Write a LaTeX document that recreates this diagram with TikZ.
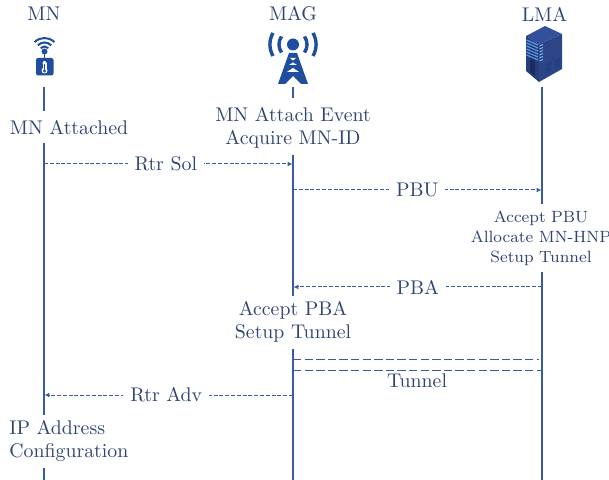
\documentclass[tikz,border=0pt]{standalone}
\usetikzlibrary{arrows.meta}
\definecolor{txt}{HTML}{2F4472}
\definecolor{ln}{HTML}{3A5C9E}
\definecolor{icon}{HTML}{1F4E9E}
\definecolor{srvL}{HTML}{263E80}
\definecolor{srvR}{HTML}{2C4587}
\definecolor{srvT}{HTML}{34509A}
\definecolor{srvB}{HTML}{5A9BE8}
\tikzset{
  lab/.style={text=txt,font=\fontsize{9.9}{11.6}\selectfont,align=center,inner sep=0pt},
  small/.style={text=txt,font=\fontsize{8.15}{10}\selectfont,align=center,inner sep=0pt},
  life/.style={draw=ln,line width=1pt},
  msg/.style={draw=ln,line width=.5pt,dash pattern=on 2pt off .9pt,-{Latex[length=2.4pt,width=2.4pt]}},
  tun/.style={draw=ln,line width=.45pt,dash pattern=on 4.2pt off 1.6pt},
  onmsg/.style={lab,fill=white,inner xsep=3.5pt,inner ysep=2pt},
}
\begin{document}
\begin{tikzpicture}[x=.5pt,y=-.5pt]
\useasboundingbox (0,0) rectangle (609,480);
% headers
\node[lab] (mn) at (44,14) {MN};
\node[lab] (mag) at (293,14) {MAG};
\node[lab] (lma) at (544.5,14) {LMA};
% MN icon
\fill[icon,rounded corners=1pt] (36,58) rectangle (53.5,75.5);
\fill[white] (44.5,63) circle (2) (44.5,70.5) circle (3);
\fill[white] (42.5,63) rectangle (46.5,70);
\fill[icon] (44,64) rectangle (45,71);
\fill[icon] (44.5,71) circle (1.6);
\fill[icon] (44.5,51.5) circle (3);
\draw[icon,line width=.7pt] (44.5,52) -- (44.5,59);
\draw[icon,line width=1pt] (40.6,48.1) arc[start angle=225,end angle=315,radius=5.5];
\draw[icon,line width=1pt] (37.8,45.3) arc[start angle=225,end angle=315,radius=9.5];
\draw[icon,line width=1pt] (34.6,42.1) arc[start angle=225,end angle=315,radius=14];
% MAG icon
\fill[icon] (293,44.5) circle (6);
\draw[icon,line width=1.7pt] (281.5,36.5) arc[start angle=215,end angle=145,radius=14];
\draw[icon,line width=1.7pt] (304.5,36.5) arc[start angle=-35,end angle=35,radius=14];
\draw[icon,line width=1.7pt] (273,33) arc[start angle=210,end angle=150,radius=23];
\draw[icon,line width=1.7pt] (313,33) arc[start angle=-30,end angle=30,radius=23];
\fill[icon] (289,53) -- (297,53) -- (308,84) -- (301,84) -- (293,76) -- (285,84) -- (278,84) -- cycle;
\fill[white] (290,58) -- (296,58) -- (293,60.5) -- cycle;
\fill[white] (293,62.5) -- (297,65) -- (289,65) -- cycle;
\fill[white] (293,68) -- (299,72) -- (287,72) -- cycle;
% LMA icon
\fill[srvL] (526,36) -- (539,44) -- (539,82) -- (526,71) -- cycle;
\fill[srvR] (539,44) -- (562,34) -- (562,69) -- (539,82) -- cycle;
\fill[srvT] (545,26) -- (562,34) -- (539,44) -- (526,36) -- cycle;
\fill[srvL!70!black] (530,44) -- (535,47) -- (535,76) -- (530,72) -- cycle;
\foreach \d in {0,3,...,15}{
  \draw[srvB,line width=.6pt] (526.5,{40+\d}) -- (538,{45+\d});
  \draw[srvB!80!white,line width=.5pt] (539.5,{46+\d}) -- (543,{44.5+\d});
}
\fill[srvL] (546,69) -- (551,66.5) -- (551,70) -- (546,72.5) -- cycle;
\fill[srvL] (546,64) -- (551,61.5) -- (551,65) -- (546,67.5) -- cycle;
\fill[srvL] (555,65) -- (560,62.5) -- (560,66) -- (555,68.5) -- cycle;
\fill[srvL] (555,60) -- (560,57.5) -- (560,61) -- (555,63.5) -- cycle;
% text blocks on the lifelines
\node[lab] (mnatt) at (69,128) {MN Attached};
\node[lab,text width=160pt] (mnev) at (293,127.5) {MN Attach Event\\Acquire MN-ID};
\node[small,text width=80pt] (acpbu) at (541,238) {Accept PBU\\Allocate MN-HNP\\Setup Tunnel};
\node[lab,text width=100pt] (acpba) at (293,322) {Accept PBA\\Setup Tunnel};
\node[lab,align=left,anchor=west] (ipcfg) at (9,441) {IP Address\\Configuration};
% lifeline anchors
\coordinate (mn0) at (44,87); \coordinate (mn1) at (44,111);
\coordinate (mn2) at (44,143); \coordinate (mn3) at (44,415);
\coordinate (mn4) at (44,468); \coordinate (mn5) at (44,480);
\coordinate (mag0) at (293,87); \coordinate (mag1) at (293,98);
\coordinate (mag2) at (293,155); \coordinate (mag3) at (293,296);
\coordinate (mag4) at (293,349); \coordinate (mag5) at (293,480);
\coordinate (lma0) at (542,87); \coordinate (lma1) at (542,204);
\coordinate (lma2) at (542,272); \coordinate (lma3) at (542,480);
\draw[life] (mn0)--(mn1) (mn2)--(mn3) (mn4)--(mn5);
\draw[life] (mag0)--(mag1) (mag2)--(mag3) (mag4)--(mag5);
\draw[life] (lma0)--(lma1) (lma2)--(lma3);
% messages
\coordinate (a1) at (44,164); \coordinate (b1) at (292.5,164);
\coordinate (a2) at (293,190); \coordinate (b2) at (541.5,190);
\coordinate (a3) at (542,287); \coordinate (b3) at (293.5,287);
\coordinate (a4) at (293,359); \coordinate (b4) at (539,359);
\coordinate (a5) at (293,370); \coordinate (b5) at (541,370);
\coordinate (a6) at (293,395); \coordinate (b6) at (44.5,395);
\draw[msg] (a1) -- node[onmsg,pos=.49] (rs) {Rtr Sol} (b1);
\draw[msg] (a2) -- node[onmsg] (pbu) {PBU} (b2);
\draw[msg] (a3) -- node[onmsg] (pba) {PBA} (b3);
\draw[tun] (a4) -- (b4);
\draw[tun] (a5) -- (b5);
\node[lab] (tn) at (417,381) {Tunnel};
\draw[msg] (a6) -- node[onmsg,pos=.51] (ra) {Rtr Adv} (b6);
\end{tikzpicture}
\end{document}
